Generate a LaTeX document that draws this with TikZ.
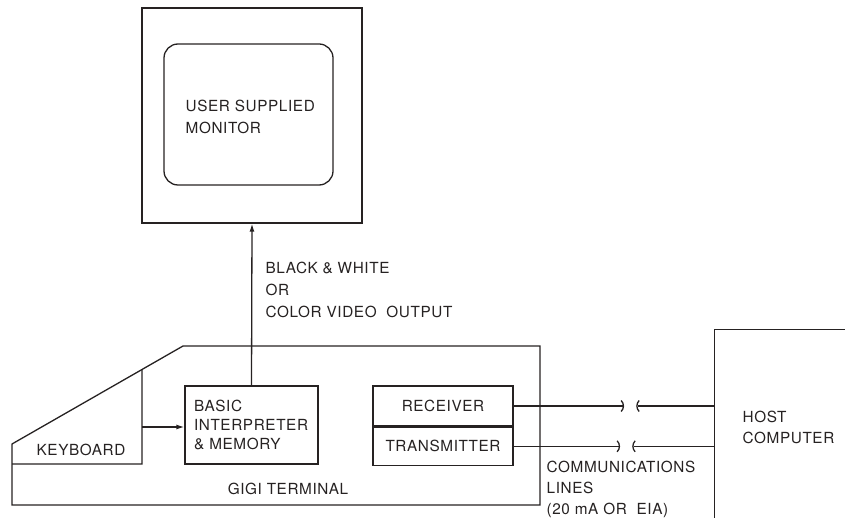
\documentclass[tikz,border=0pt]{standalone}
\usepackage{fontspec}
\setmainfont{TeX Gyre Heros}[LetterSpace=4]
\usetikzlibrary{arrows.meta,calc}
\definecolor{ink}{RGB}{38,34,34}

\begin{document}
\begin{tikzpicture}[x=1pt, y=-1pt, line width=1.3pt, color=ink,
    every node/.style={font=\fontsize{15.3}{22}\selectfont},
    box/.style={draw, rectangle, inner sep=0},
    lbl/.style={align=left, inner sep=0, anchor=west},
    tip/.style={-{Latex[length=8pt,width=5pt]}}]
  \useasboundingbox (0,0) rectangle (845,518);
  \clip (0,0) rectangle (845,518);
  % monitor
  \node[box, minimum width=220, minimum height=215] (monitor) at (252,115.5) {};
  \node[box, rounded corners=14, minimum width=169, minimum height=141] (screen) at (248.5,114.5) {};
  \node[lbl] (montext) at (185,117) {USER SUPPLIED\\MONITOR};
  % terminal
  \coordinate (tl) at (12,444);
  \coordinate (tc) at (183,346);
  \draw (tl) -- (tc) -- (540,346) -- (540,505) -- (12,505) -- cycle;
  \coordinate (kbtop) at ($(tl)!0.76!(tc)$);
  \coordinate (kbbot) at (142,464);
  \draw (kbtop) -- (kbbot) -- (12,464);
  \node (keyboard) at (81,450) {KEYBOARD};
  \node[box, text width=115, inner xsep=9, minimum height=78, align=left,
    font=\fontsize{15.3}{19}\selectfont] (basic) at (251.5,425) {BASIC\\INTERPRETER\\\& MEMORY};
  \node[box, minimum width=140, minimum height=40] (rx) at (443,406) {RECEIVER};
  \node[box, minimum width=140, minimum height=38, anchor=north] (tx) at (rx.south) {TRANSMITTER};
  \node (gigi) at (288,489) {GIGI TERMINAL};
  \coordinate (kbout) at (142,427);
  \draw[tip] (kbout) -- (kbout -| basic.west);
  \draw[tip] (basic.north) -- (monitor.south);
  \node[lbl] (video) at (265,290) {BLACK \& WHITE\\OR\\COLOR VIDEO\ \ OUTPUT};
  % host and lines
  \node[box, minimum width=250, minimum height=300, anchor=north west] (host) at (714,329) {};
  \node[lbl, font=\fontsize{15.3}{21}\selectfont] (hosttext) at (742,427.5) {HOST\\COMPUTER};
  \coordinate (rxcut) at ($(rx.east)+(109,0)$);
  \coordinate (rxjoin) at ($(rx.east)+(124,0)$);
  \coordinate (txcut) at ($(tx.east)+(105,0)$);
  \coordinate (txjoin) at ($(tx.east)+(120,0)$);
  \draw (rx.east) -- (rxcut);
  \draw (tx.east) -- (txcut);
  \draw (rxjoin) -- (rxjoin -| host.west);
  \draw (txjoin) -- (txjoin -| host.west);
  \foreach \p in {rxcut, txcut} {
    \draw ($(\p)+(-1.5,-5.5)$) to[bend left=45] ($(\p)+(-1.5,5.5)$);
  }
  \foreach \p in {rxjoin, txjoin} {
    \draw ($(\p)+(1.5,-5.5)$) to[bend right=45] ($(\p)+(1.5,5.5)$);
  }
  \node[lbl, font=\fontsize{15.3}{21}\selectfont] (comms) at (546,489) {COMMUNICATIONS\\LINES\\(20 mA OR\ \ EIA)};
\end{tikzpicture}
\end{document}
